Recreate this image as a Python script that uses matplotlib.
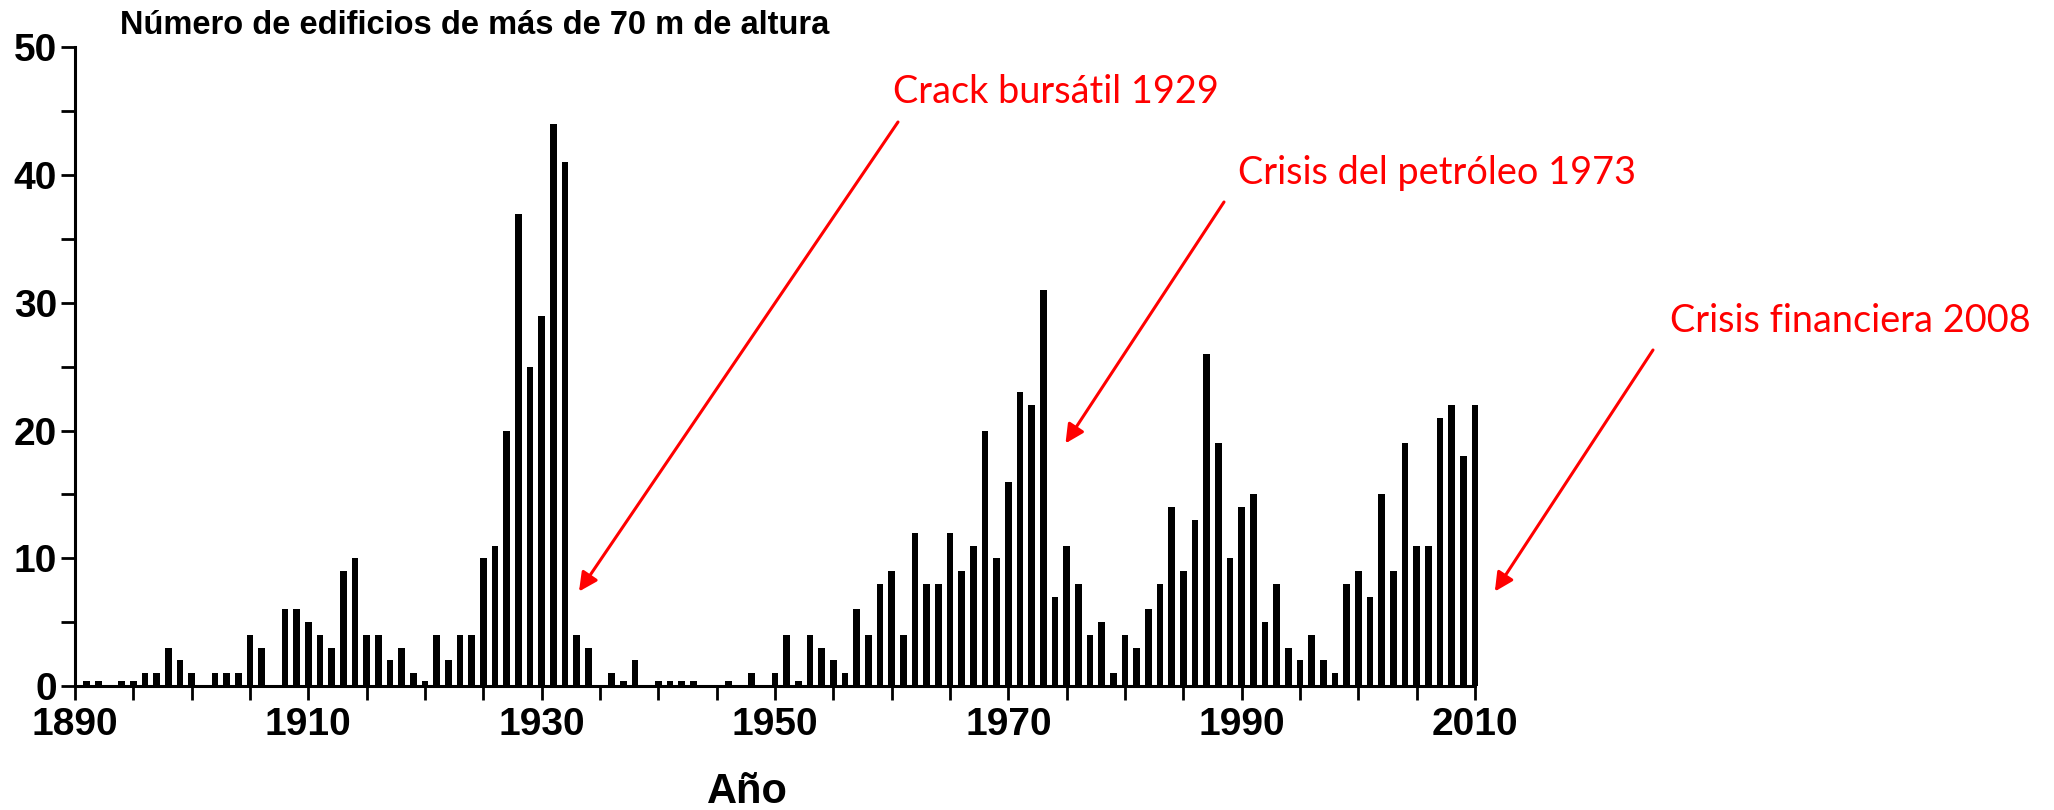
import matplotlib
matplotlib.use("Agg")
import matplotlib.pyplot as plt
from matplotlib.ticker import MultipleLocator

# Edificios de más de 70 m terminados por año (lectura del gráfico)
years = [1891, 1892, 1894, 1895, 1896, 1897, 1898, 1899, 1900, 1902, 1903, 1904,
         1905, 1906, 1908, 1909, 1910, 1911, 1912, 1913, 1914, 1915, 1916, 1917,
         1918, 1919, 1920, 1921, 1922, 1923, 1924, 1925, 1926, 1927, 1928, 1929,
         1930, 1931, 1932, 1933, 1934, 1936, 1937, 1938, 1940, 1941, 1942, 1943,
         1946, 1948, 1950, 1951, 1952, 1953, 1954, 1955, 1956, 1957, 1958, 1959,
         1960, 1961, 1962, 1963, 1964, 1965, 1966, 1967, 1968, 1969, 1970, 1971,
         1972, 1973, 1974, 1975, 1976, 1977, 1978, 1979, 1980, 1981, 1982, 1983,
         1984, 1985, 1986, 1987, 1988, 1989, 1990, 1991, 1992, 1993, 1994, 1995,
         1996, 1997, 1998, 1999, 2000, 2001, 2002, 2003, 2004, 2005, 2006, 2007,
         2008, 2009, 2010]
buildings = [0.4, 0.4, 0.4, 0.4, 1, 1, 3, 2, 1, 1, 1, 1,
             4, 3, 6, 6, 5, 4, 3, 9, 10, 4, 4, 2,
             3, 1, 0.4, 4, 2, 4, 4, 10, 11, 20, 37, 25,
             29, 44, 41, 4, 3, 1, 0.4, 2, 0.4, 0.4, 0.4, 0.4,
             0.4, 1, 1, 4, 0.4, 4, 3, 2, 1, 6, 4, 8,
             9, 4, 12, 8, 8, 12, 9, 11, 20, 10, 16, 23,
             22, 31, 7, 11, 8, 4, 5, 1, 4, 3, 6, 8,
             14, 9, 13, 26, 19, 10, 14, 15, 5, 8, 3, 2,
             4, 2, 1, 8, 9, 7, 15, 9, 19, 11, 11, 21,
             22, 18, 22]

x_labels = [1890, 1910, 1930, 1950, 1970, 1990, 2010]
y_labels = [0, 10, 20, 30, 40, 50]

title = "Número de edificios de más de 70 m de altura"
xlabel = "Año"

# texto, posición del texto (px figura), inicio flecha (px figura), punta (datos)
crises = [
    ("Crack bursátil 1929", (893, 718), (898, 688), (1933.2, 7.4)),
    ("Crisis del petróleo 1973", (1238, 637), (1224, 608), (1974.9, 19.0)),
    ("Crisis financiera 2008", (1670, 489), (1653, 460), (2011.7, 7.4)),
]

W, H = 2054, 810
fig = plt.figure(figsize=(W / 100, H / 100), dpi=100)
ax = fig.add_axes([75 / W, 124 / H, 1400 / W, 638.5 / H])

ax.bar(years, buildings, width=0.55, color="black", clip_on=False, zorder=2)

ax.set_xlim(1890, 2010)
ax.set_ylim(0, 50)
ax.set_xticks(x_labels)
ax.xaxis.set_minor_locator(MultipleLocator(5))
ax.set_yticks(y_labels)
ax.yaxis.set_minor_locator(MultipleLocator(5))

for sp in ["top", "right"]:
    ax.spines[sp].set_visible(False)
for sp in ["bottom", "left"]:
    ax.spines[sp].set_linewidth(2.2)
    ax.spines[sp].set_color("black")

ax.tick_params(which="both", direction="out", length=10, width=2, colors="black")
ax.tick_params(axis="x", pad=5)
ax.tick_params(axis="y", pad=3)
for lab in ax.get_xticklabels() + ax.get_yticklabels():
    lab.set_fontfamily("Liberation Sans")
    lab.set_fontsize(28)
    lab.set_fontweight("bold")

fig.text(120 / W, (H - 25) / H, title, ha="left", va="center",
         fontsize=23.5, fontweight="bold", family="Liberation Sans", color="black")
fig.text(747 / W, (H - 792) / H, xlabel, ha="center", va="center",
         fontsize=30, fontweight="bold", family="Liberation Sans", color="black")

for txt, (tx, ty), (sx, sy), tip in crises:
    fig.text(tx / W, ty / H, txt, ha="left", va="center", fontsize=27.3,
             family="Lato", color="#ff0000")
    ax.annotate("", xy=tip, xycoords="data",
                xytext=(sx, sy), textcoords="figure pixels",
                arrowprops=dict(arrowstyle="-|>", color="#ff0000", lw=2.2,
                                mutation_scale=28, shrinkA=0, shrinkB=0),
                annotation_clip=False)

fig.savefig("out.png", dpi=100, facecolor="white")
